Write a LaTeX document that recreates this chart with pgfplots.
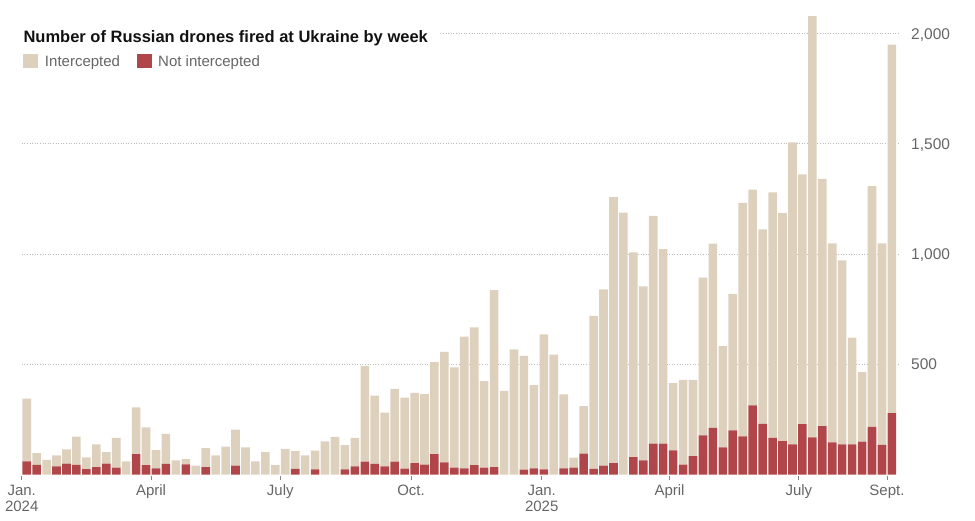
\documentclass[border=0pt]{standalone}
\usepackage{fontspec}
\setmainfont{Liberation Sans}
\usepackage{pgfplots}
\usepackage{pgfplotstable}
\pgfplotsset{compat=1.18}
\definecolor{beige}{RGB}{221,209,189}
\definecolor{dred}{RGB}{176,70,74}
\definecolor{txtgray}{RGB}{102,102,102}
\definecolor{gridgray}{RGB}{190,190,190}
\definecolor{titleblack}{RGB}{18,18,18}
\pgfplotsset{sq/.style={legend image code/.code={\fill[##1] (0bp,-6.45bp) rectangle (15bp,7.95bp);}}}
% day = days since 1 Jan 2024 (centre of each week); notint = not intercepted; inter = intercepted
\pgfplotstableread{
day notint inter
3.5 60 284
10.5 44 53
17.5 0 66
24.5 37 50
31.5 49 65
38.5 44 128
45.5 24 54
52.5 33 104
59.5 49 53
66.5 31 135
73.5 0 60
80.5 92 213
87.5 43 171
94.5 28 83
101.5 48 136
108.5 0 64
115.5 46 24
122.5 0 40
129.5 33 87
136.5 0 87
143.5 0 127
150.5 40 164
157.5 0 123
164.5 0 60
171.5 0 102
178.5 0 42
185.5 0 116
192.5 25 82
199.5 0 87
206.5 23 85
213.5 0 150
220.5 0 171
227.5 23 110
234.5 37 129
241.5 58 435
248.5 48 310
255.5 37 244
262.5 58 330
269.5 27 322
276.5 52 318
283.5 45 320
290.5 92 418
297.5 55 501
304.5 31 455
311.5 28 597
318.5 42 626
325.5 31 393
332.5 33 803
339.5 0 379
346.5 0 568
353.5 22 516
360.5 28 377
367.5 23 613
374.5 0 544
381.5 28 336
388.5 31 46
395.5 95 215
402.5 25 695
409.5 40 800
416.5 52 1206
423.5 0 1188
430.5 79 929
437.5 64 790
444.5 140 1033
451.5 140 883
458.5 110 305
465.5 45 384
472.5 83 346
479.5 178 715
486.5 211 836
493.5 123 460
500.5 200 620
507.5 173 1059
514.5 314 978
521.5 230 882
528.5 166 1114
535.5 151 1035
542.5 137 1370
549.5 228 1134
556.5 169 1911
563.5 220 1121
570.5 146 903
577.5 137 835
584.5 137 484
591.5 149 316
598.5 216 1092
605.5 134 915
612.5 279 1671
}\drones
\begin{document}
\begin{tikzpicture}
\useasboundingbox (0,0) rectangle (975bp,521bp);
\begin{axis}[
  at={(21.73bp,46.5bp)}, anchor=south west,
  scale only axis, width=878.27bp, height=462.84bp,
  xmin=0, xmax=618.2, ymin=0, ymax=2100,
  clip=false,
  ybar stacked, bar width=8.6bp,
  axis x line*=bottom, axis y line*=right,
  axis line style={draw=none},
  tick align=outside,
  xtick={0,91,182,274,366,456,547,609},
  xticklabels={{Jan.\\2024},April,July,Oct.,{Jan.\\2025},April,July,Sept.},
  xticklabel style={font=\fontsize{15bp}{16bp}\selectfont, text=txtgray, align=center, anchor=north, inner sep=0pt, yshift=-6bp},
  major tick length=4bp,
  xtick style={draw=txtgray!80, line width=0.8bp, yshift=-1.5bp},
  ytick={500,1000,1500,2000},
  yticklabels={500,{1,000},{1,500},{2,000}},
  ytick style={draw=none},
  yticklabel style={font=\fontsize{15.5bp}{18bp}\selectfont, text=txtgray, anchor=base west, inner sep=0pt, yshift=-5.5bp, xshift=7bp},
  /pgf/number format/assume math mode=true,
  ymajorgrids,
  grid style={gridgray, dash pattern=on 0.8bp off 1.8bp, line width=0.8bp},
  every axis title shift=0pt,
  title={\kern1.6bp Number of Russian drones fired at Ukraine by week\kern12bp},
  title style={at={(axis description cs:0,0.9338)}, anchor=base west, fill=white, inner sep=0pt, font=\bfseries\fontsize{16.5bp}{19bp}\selectfont, text=titleblack},
  legend style={at={(axis description cs:0.00178,0.910)}, anchor=north west, draw=none, fill=none, inner sep=0pt, outer sep=0pt,
    font=\fontsize{15bp}{18bp}\selectfont, text=txtgray,
    /tikz/every even column/.append style={column sep=14.5bp},
    /tikz/every odd column/.append style={column sep=4.7bp}},
  legend columns=2,
]
\addlegendimage{sq, fill=beige, draw=none}
\addlegendentry{Intercepted}
\addlegendimage{sq, fill=dred, draw=none}
\addlegendentry{Not intercepted}
\addplot[fill=dred, draw=none] table[x=day,y=notint]{\drones};
\addplot[fill=beige, draw=none] table[x=day,y=inter]{\drones};
\end{axis}
\end{tikzpicture}
\end{document}
